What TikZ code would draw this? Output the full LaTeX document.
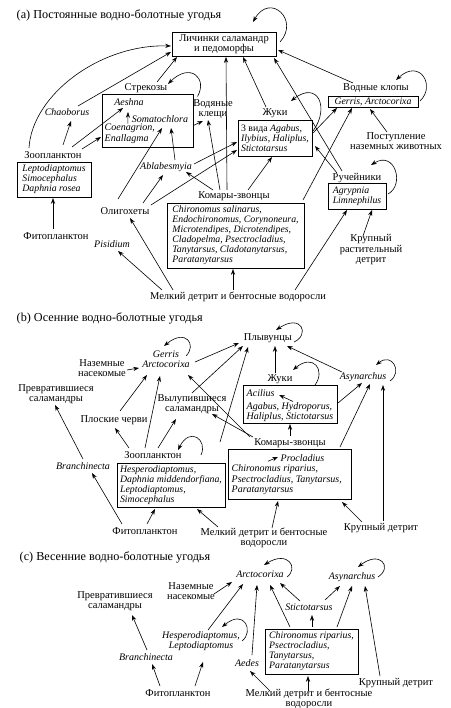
\documentclass[tikz,border=0pt]{standalone}
\usepackage{fontspec}
\setmainfont{Liberation Serif}
\usetikzlibrary{arrows.meta,calc}

\begin{document}
\begin{tikzpicture}[x=1pt,y=-1pt,
	lbl/.style={inner sep=0.5pt, align=center, font=\fontsize{10.5}{10.5}\selectfont},
	ttl/.style={inner sep=0.5pt, anchor=west, font=\fontsize{12.2}{12.2}\selectfont},
	sp/.style={inner sep=0.5pt, align=center, font=\itshape\fontsize{10}{10.5}\selectfont},
	box/.style={draw, line width=0.65pt, inner sep=0pt, align=left, font=\itshape\fontsize{9.8}{10}\selectfont},
	arr/.style={-{Stealth[length=5.8pt,width=4.2pt]}, line width=0.6pt}]
	\useasboundingbox (0,0) rectangle (450,708);

	% (a) permanent wetlands
	\node[ttl] (ttlA) at (16,15) {(a) Постоянные водно-болотные угодья};
	\node[lbl, draw, line width=0.65pt, minimum width=104pt, minimum height=24pt] (lich) at (224,44) {Личинки саламандр\\и педоморфы};
	\node[lbl] (strl) at (146,88) {Стрекозы};
	\node[box, minimum width=91pt, minimum height=53pt] (strbox) at (147.5,120.5) {};
	\node[sp] (aesh) at (129,102) {Aeshna};
	\node[sp] (somat) at (160,119) {Somatochlora};
	\node[sp, align=left, anchor=west] (coen) at (104,134) {Coenagrion,\\Enallagma};
	\node[sp] (chaob) at (67,112) {Chaoborus};
	\node[lbl] (zool) at (53,155) {Зоопланктон};
	\node[box, minimum width=74pt, minimum height=35pt] (zoobox) at (54,179.5) {Leptodiaptomus\\Simocephalus\\Daphnia rosea};
	\node[lbl] (phytA) at (56,236) {Фитопланктон};
	\node[lbl] (klesh) at (213,109) {Водяные\\клещи};
	\node[sp] (abla) at (166,167) {Ablabesmyia};
	\node[lbl] (olig) at (125,211) {Олигохеты};
	\node[sp] (pisid) at (112,244) {Pisidium};
	\node[lbl] (komAl) at (234,196) {Комары-звонцы};
	\node[box, minimum width=137pt, minimum height=65pt] (komAbox) at (235.5,235.5) {Chironomus salinarus,\\Endochironomus, Corynoneura,\\Microtendipes, Dicrotendipes,\\Cladopelma, Psectrocladius,\\Tanytarsus, Cladotanytarsus,\\Paratanytarsus};
	\node[lbl] (detA) at (238,297) {Мелкий детрит и бентосные водоросли};
	\node[lbl] (zhukAl) at (275,113) {Жуки};
	\node[box, minimum width=74pt, minimum height=36pt] (zhukAbox) at (275,138) {{\upshape 3 вида} Agabus,\\Ilybius, Haliplus,\\Stictotarsus};
	\node[lbl] (klopl) at (376,88) {Водные клопы};
	\node[box, minimum width=90pt, minimum height=11pt] (klopbox) at (373,102) {Gerris, Arctocorixa};
	\node[lbl] (postup) at (396,141) {Поступление\\наземных животных};
	\node[lbl] (ruchl) at (357,178) {Ручейники};
	\node[box, minimum width=58pt, minimum height=26pt] (ruchbox) at (357,196) {Agrypnia\\Limnephilus};
	\node[lbl] (krupA) at (371,250) {Крупный\\растительный\\детрит};

	\draw[arr] ($(zool)+(-24,-7)$) .. controls (32,95) and (100,44) .. ($(lich)+(-53,2)$);
	\draw[arr] ($(chaob)+(11,-6)$) -- ($(lich)+(-53,8)$);
	\draw[arr] ($(strl)+(11,-6)$) -- ($(lich)+(-47,13)$);
	\draw[arr] ($(strbox)+(50,-24)$) .. controls (208,78) and (190,62) .. ($(strl)+(22,-4)$);
	\draw[arr] ($(zool)+(10,-10)$) -- ($(chaob)+(4,9)$);
	\draw[arr] ($(zool)+(19,-8)$) -- ($(aesh)+(-6,6)$);
	\draw[arr] ($(zool)+(29,-6)$) -- ($(strbox)+(-46.5,16.5)$);
	\draw[arr] ($(coen.north)+(-2,0)$) -- ($(aesh)+(-1,10)$);
	\draw[arr] ($(strbox.east)+(0,5)$) -- ($(klesh)+(-10,12)$);
	\draw[arr] ($(olig)+(-7,-12)$) -- ($(somat)+(2,9)$);
	\draw[arr] ($(abla)+(9,-7)$) -- ($(somat)+(11,9)$);
	\draw[arr] ($(olig)+(18,-8)$) -- ($(abla)+(-3,8)$);
	\draw[arr] ($(abla)+(28,-3)$) -- ($(zhukAbox)+(-38,4)$);
	\draw[arr] ($(olig)+(26,-6)$) -- ($(zhukAbox)+(-38,12)$);
	\draw[arr] ($(komAl)+(-21,-6)$) -- ($(abla)+(20,5)$);
	\draw[arr] ($(komAl)+(-14,-6)$) -- ($(klesh)+(-5,11)$);
	\draw[arr] ($(komAl)+(-7,-6)$) -- ($(lich)+(2,13)$);
	\draw[arr] ($(komAl)+(14,-6)$) -- ($(zhukAbox)+(-3,19)$);
	\draw[arr] ($(komAbox)+(67.5,-35.5)$) -- ($(klopbox)+(-21,6)$);
	\draw[arr] ($(detA)+(-76,-7)$) -- ($(pisid)+(6,7)$);
	\draw[arr] ($(detA)+(-65,-7)$) -- ($(olig)+(5,7)$);
	\draw[arr] ($(detA)+(-5,-7)$) -- ($(komAbox)+(-2.5,33.5)$);
	\draw[arr] ($(detA)+(57,-7)$) -- ($(ruchbox)+(-10,14)$);
	\draw[arr] ($(krupA)+(-8,-14)$) -- ($(ruchbox)+(15,14)$);
	\draw[arr] ($(phytA)+(-3,-7)$) -- ($(zoobox)+(-1,18.5)$);
	\draw[arr] ($(zhukAl)+(-9,-6)$) -- ($(lich)+(19,13)$);
	\draw[arr] ($(zhukAbox)+(38,-7)$) .. controls (330,108) and (318,80) .. ($(zhukAl)+(16,-12)$);
	\draw[arr] ($(zhukAbox)+(38,-5)$) -- ($(klopbox)+(-36,6)$);
	\draw[arr] ($(klopl)+(-23,-5)$) -- ($(lich)+(54,6)$);
	\draw[arr] ($(klopbox)+(47,-1)$) .. controls (436,86) and (420,58) .. ($(klopl)+(20,-8)$);
	\draw[arr] ($(postup)+(-9,-9)$) -- ($(klopbox)+(-3,7)$);
	\draw[arr] ($(ruchl)+(-15,-7)$) -- ($(lich)+(50,14)$);
	\draw[arr] ($(ruchl)+(-20,-5)$) -- ($(zhukAbox)+(40,8)$);
	\draw[arr] ($(ruchbox)+(31,-2)$) .. controls (405,185) and (395,150) .. ($(ruchl)+(14,-13)$);
	\draw[arr] ($(lich)+(56,-2)$) .. controls (300,20) and (270,-8) .. ($(lich)+(29,-22)$);

	% (b) autumn wetlands
	\node[ttl] (ttlB) at (16,318) {(b) Осенние водно-болотные угодья};
	\node[sp] (gerrB) at (166,359) {Gerris\\Arctocorixa};
	\node[lbl] (nazB) at (102,368) {Наземные\\насекомые};
	\node[lbl] (prevB) at (56,394) {Превратившиеся\\саламандры};
	\node[lbl] (vylB) at (192,404) {Вылупившиеся\\саламандры};
	\node[lbl] (plosk) at (114,420) {Плоские черви};
	\node[lbl] (zooBl) at (153,455) {Зоопланктон};
	\node[box, minimum width=108pt, minimum height=44pt] (zooBbox) at (171,485) {Hesperodiaptomus,\\Daphnia middendorfiana,\\Leptodiaptomus,\\Simocephalus};
	\node[sp] (branB) at (83,466) {Branchinecta};
	\node[lbl] (phytB) at (145,531) {Фитопланктон};
	\node[lbl] (detB) at (264,538) {Мелкий детрит и бентосные\\водоросли};
	\node[lbl] (krupB) at (381,528) {Крупный детрит};
	\node[lbl] (komBl) at (290,443) {Комары-звонцы};
	\node[box, minimum width=123pt, minimum height=50pt] (komBbox) at (289.5,474) {};
	\node[sp, anchor=west] (procl) at (280,458) {Procladius};
	\node[sp, align=left, anchor=west] (chirB) at (231,480) {Chironomus riparius,\\Psectrocladius, Tanytarsus,\\Paratanytarsus};
	\node[lbl] (zhukBl) at (280,379) {Жуки};
	\node[box, minimum width=94pt, minimum height=38pt] (zhukBbox) at (290,404) {};
	\node[sp, anchor=west] (acil) at (246,393) {Acilius};
	\node[sp, align=left, anchor=west] (agab) at (246,412) {Agabus, Hydroporus,\\Haliplus, Stictotarsus};
	\node[lbl] (plyv) at (268,338) {Плывунцы};
	\node[sp] (asynB) at (363,377) {Asynarchus};

	\draw[arr] ($(nazB)+(25,2)$) -- ($(gerrB)+(-27,9)$);
	\draw[arr] ($(gerrB)+(20,-3)$) .. controls (197,345) and (186,328) .. ($(gerrB)+(-2,-13)$);
	\draw[arr] ($(plosk)+(6,-9)$) -- ($(gerrB)+(-19,16)$);
	\draw[arr] ($(zooBl)+(-8,-7)$) -- ($(gerrB)+(-6,17)$);
	\draw[arr] ($(komBl)+(-40,-6)$) -- ($(gerrB)+(22,16)$);
	\draw[arr] ($(zooBl)+(-24,-7)$) -- ($(plosk)+(1,8)$);
	\draw[arr] ($(zooBl)+(5,-7)$) -- ($(vylB)+(-16,15)$);
	\draw[arr] ($(komBl)+(-37,-6)$) -- ($(vylB)+(20,10)$);
	\draw[arr] ($(gerrB)+(29,3)$) -- ($(plyv)+(-29,5)$);
	\draw[arr] ($(vylB)+(0,-11)$) -- ($(plyv)+(-25,8)$);
	\draw[arr] ($(zooBl)+(67,-13)$) -- ($(plyv)+(-20,9)$);
	\draw[arr] ($(zhukBl)+(-5,-6)$) -- ($(plyv)+(7,8)$);
	\draw[arr] ($(asynB)+(-21,-5)$) -- ($(plyv)+(19,8)$);
	\draw[arr] ($(plyv)+(26,4)$) .. controls (310,335) and (302,313) .. ($(plyv)+(8,-8)$);
	\draw[arr] ($(zhukBbox)+(25,-19)$) .. controls (326,370) and (313,353) .. ($(zhukBl)+(13,-9)$);
	\draw[arr] ($(agab.north)+(3,0)$) -- ($(acil.east)+(4,2)$);
	\draw[arr] ($(komBl)+(0,-7)$) -- ($(zhukBbox)+(0,20)$);
	\draw[arr] ($(zhukBbox)+(48,-1)$) -- ($(asynB)+(-1,6)$);
	\draw[arr] ($(komBbox)+(50.5,-27)$) -- ($(asynB)+(7,7)$);
	\draw[arr] ($(krupB)+(2,-7)$) -- ($(asynB)+(20,8)$);
	\draw[arr] ($(asynB)+(27,4)$) .. controls (403,372) and (392,352) .. ($(asynB)+(13,-12)$);
	\draw[arr] ($(zooBl)+(48,0)$) .. controls (208,440) and (190,426) .. ($(zooBl)+(25,-5)$);
	\draw[arr] ($(phytB)+(2,-7)$) -- ($(zooBbox)+(-16,24)$);
	\draw[arr] ($(phytB)+(-23,-7)$) -- ($(branB)+(9,7)$);
	\draw[arr] ($(branB)+(0,-7)$) -- ($(prevB)+(-1,11)$);
	\draw[arr] ($(detB)+(-46,-11)$) -- ($(zooBbox)+(26,24)$);
	\draw[arr] ($(detB)+(8,-10)$) -- ($(komBbox)+(-11.5,27)$);
	\draw[arr] ($(krupB)+(-19,-6)$) -- ($(komBbox)+(52.5,28)$);
	\draw[arr] ($(chirB.north west)+(37,-3)$) -- ($(procl.west)+(-2,-1)$);

	% (c) spring wetlands
	\node[ttl] (ttlC) at (19,557) {(c) Весенние водно-болотные угодья};
	\node[sp] (arcC) at (260,574) {Arctocorixa};
	\node[sp] (asynC) at (352,577) {Asynarchus};
	\node[sp] (stictC) at (309,607) {Stictotarsus};
	\node[lbl] (nazC) at (191,591) {Наземные\\насекомые};
	\node[lbl] (prevC) at (115,601) {Превратившиеся\\саламандры};
	\node[sp] (hespC) at (201,641) {Hesperodiaptomus,\\Leptodiaptomus};
	\node[sp] (aedes) at (247,663) {Aedes};
	\node[sp] (branC) at (146,657) {Branchinecta};
	\node[lbl] (phytC) at (178,693) {Фитопланктон};
	\node[box, minimum width=93pt, minimum height=45pt] (komCbox) at (311.5,651.5) {Chironomus riparius,\\Psectrocladius,\\Tanytarsus,\\Paratanytarsus};
	\node[lbl, font=\fontsize{10.5}{9.5}\selectfont] (detC) at (309,699) {Мелкий детрит и бентосные\\водоросли};
	\node[lbl] (krupC) at (396,683) {Крупный детрит};

	\draw[arr] ($(nazC)+(23,3)$) -- ($(arcC)+(-28,8)$);
	\draw[arr] ($(hespC)+(7,-11)$) -- ($(arcC)+(-17,10)$);
	\draw[arr] ($(aedes)+(5,-8)$) -- ($(arcC)+(-3,11)$);
	\draw[arr] ($(komCbox)+(-21.5,-24.5)$) -- ($(arcC)+(10,11)$);
	\draw[arr] ($(stictC)+(-9,-6)$) -- ($(arcC)+(20,9)$);
	\draw[arr] ($(arcC)+(27,3)$) .. controls (299,568) and (288,550) .. ($(arcC)+(4,-9)$);
	\draw[arr] ($(stictC)+(16,-7)$) -- ($(asynC)+(-12,9)$);
	\draw[arr] ($(komCbox)+(0.5,-24.5)$) -- ($(stictC)+(3,8)$);
	\draw[arr] ($(komCbox)+(25.5,-24.5)$) -- ($(asynC)+(0,9)$);
	\draw[arr] ($(krupC)+(-16,-7)$) -- ($(asynC)+(13,9)$);
	\draw[arr] ($(asynC)+(26,0)$) .. controls (393,567) and (380,550) .. ($(asynC)+(6,-10)$);
	\draw[arr] ($(hespC)+(41,0)$) .. controls (254,632) and (245,608) .. ($(hespC)+(21,-14)$);
	\draw[arr] ($(phytC)+(17,-7)$) -- ($(hespC)+(2,21)$);
	\draw[arr] ($(phytC)+(-18,-7)$) -- ($(branC)+(6,7)$);
	\draw[arr] ($(branC)+(1,-7)$) -- ($(prevC)+(17,14)$);
	\draw[arr] ($(detC)+(-39,-8)$) -- ($(aedes)+(3,8)$);
	\draw[arr] ($(detC)+(-1,-8)$) -- ($(komCbox)+(-3.5,24.5)$);
\end{tikzpicture}
\end{document}
